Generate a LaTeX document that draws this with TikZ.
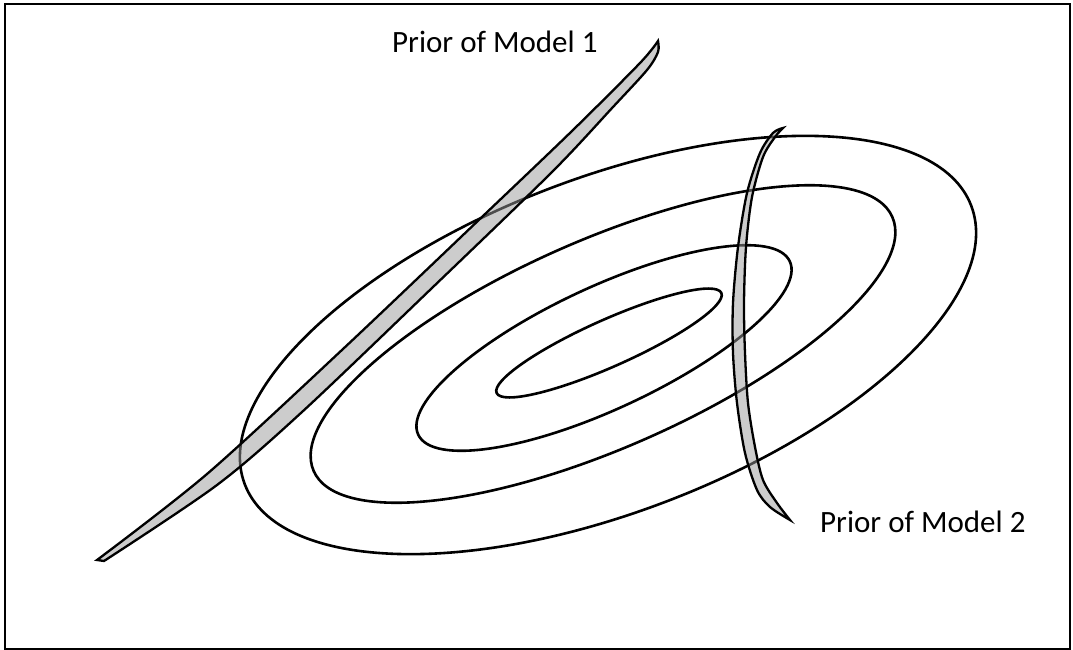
\documentclass[tikz,border=0pt]{standalone}
\usepackage{fontspec}
\setmainfont{Carlito}
\begin{document}
\begin{tikzpicture}[x=1pt, y=-1pt,
  contour/.style={draw=black, line width=2.6pt},
  priorband/.style={draw=black, line width=2.3pt, fill=gray!80, fill opacity=0.5, line join=miter},
  priorlabel/.style={anchor=base west, inner sep=0pt, font=\fontsize{31}{36}\selectfont}]
\useasboundingbox (0,0) rectangle (1073,650);
\draw[line width=2pt] (4.5,4.5) rectangle (1070,648.5);
% likelihood contours
\draw[contour, rotate around={21:(608,345)}] (608,345) ellipse [x radius=389pt, y radius=167pt];
\draw[contour, rotate around={23.7:(603,344)}] (603,344) ellipse [x radius=316pt, y radius=104pt];
\draw[contour, rotate around={25:(604,348)}] (604,348) ellipse [x radius=205pt, y radius=61pt];
\draw[contour, rotate around={24:(609,343)}] (609,343) ellipse [x radius=123pt, y radius=23.5pt];
% prior of model 1
\filldraw[priorband] plot[smooth] coordinates {(97,560) (207,474) (343,349) (483,216) (573,130) (640,63) (658,41)}
  -- plot[smooth] coordinates {(658,41) (658,52) (647,70) (613,107) (552,172) (432,288) (302,412) (217,485) (104,561)} -- cycle;
% prior of model 2
\filldraw[priorband] plot[smooth] coordinates {(783,128) (773,133) (760,153) (747,193) (738,247) (733,303) (733,353) (737,403) (745,453) (757,490) (770,507) (790,520)}
  -- plot[smooth] coordinates {(790,520) (777,503) (763,480) (755,447) (748,403) (745,353) (744,303) (746,247) (752,197) (763,157) (775,137) (783,128)} -- cycle;
\node[priorlabel] (m1label) at (392,53) {Prior of Model 1};
\node[priorlabel] (m2label) at (820,532) {Prior of Model 2};
\end{tikzpicture}
\end{document}
